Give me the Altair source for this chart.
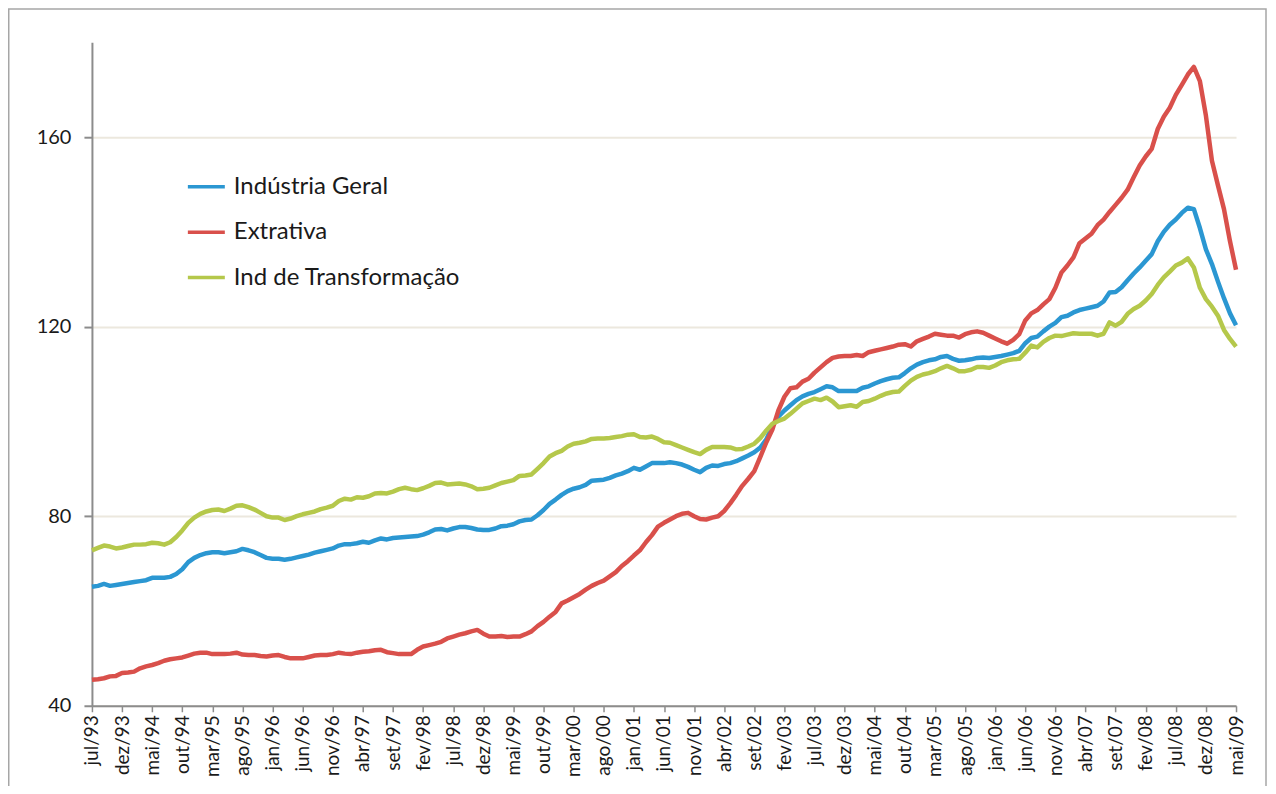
import altair as alt
import pandas as pd

# ---- data -------------------------------------------------------------
nomes_meses = ["jan", "fev", "mar", "abr", "mai", "jun",
               "jul", "ago", "set", "out", "nov", "dez"]
# monthly labels jul/93 .. mai/09
meses = [f"{nomes_meses[(6 + i) % 12]}/{(93 + (6 + i) // 12) % 100:02d}" for i in range(191)]
tick_labels = meses[::5]

series = ["Indústria Geral", "Extrativa", "Ind de Transformação"]
cores = ["#2b97d2", "#d9504b", "#b5c84b"]

industria_geral = [
    65.1, 65.3, 65.7, 65.3, 65.5, 65.7, 65.9, 66.1, 66.3, 66.5, 67.0, 67.0, 67.0,
    67.2, 67.8, 68.8, 70.3, 71.2, 71.8, 72.2, 72.4, 72.4, 72.2, 72.4, 72.6, 73.1,
    72.8, 72.4, 71.8, 71.2, 71.0, 71.0, 70.8, 71.0, 71.3, 71.6, 71.9, 72.3, 72.6,
    72.9, 73.2, 73.8, 74.1, 74.1, 74.3, 74.6, 74.4, 74.9, 75.3, 75.1, 75.4, 75.5,
    75.6, 75.7, 75.8, 76.1, 76.6, 77.2, 77.3, 77.0, 77.4, 77.7, 77.7, 77.5, 77.2,
    77.1, 77.1, 77.4, 77.9, 78.0, 78.3, 78.9, 79.2, 79.3, 80.2, 81.3, 82.6, 83.5,
    84.5, 85.3, 85.8, 86.1, 86.6, 87.5, 87.6, 87.7, 88.1, 88.6, 89.0, 89.5, 90.2,
    89.8, 90.5, 91.2, 91.2, 91.2, 91.4, 91.2, 90.9, 90.4, 89.8, 89.3, 90.2, 90.7,
    90.6, 91.0, 91.2, 91.6, 92.2, 92.8, 93.5, 94.5, 96.2, 99.0, 101.0, 102.3, 103.4,
    104.5, 105.3, 105.8, 106.2, 106.8, 107.4, 107.2, 106.4, 106.4, 106.4, 106.4, 107.1,
    107.4, 108.0, 108.5, 108.9, 109.2, 109.3, 110.2, 111.2, 112.0, 112.5, 112.9, 113.1, 113.6,
    113.8, 113.2, 112.8, 112.9, 113.1, 113.4, 113.5, 113.4, 113.6, 113.8, 114.1, 114.4, 114.9,
    116.5, 117.6, 117.9, 119.0, 120.0, 120.8, 122.0, 122.3, 123.0, 123.5, 123.8, 124.1, 124.4,
    125.3, 127.2, 127.3, 128.3, 129.8, 131.2, 132.5, 133.9, 135.3, 138.0, 140.0, 141.5, 142.6,
    144.0, 145.1, 144.8, 140.8, 136.3, 133.2, 129.5, 126.0, 122.8, 120.3,
]

extrativa = [
    45.5, 45.6, 45.8, 46.2, 46.3, 46.9, 47.0, 47.2, 47.9, 48.3, 48.6, 49.0, 49.5,
    49.8, 50.0, 50.2, 50.6, 51.0, 51.2, 51.2, 50.9, 50.9, 50.9, 51.0, 51.2, 50.8,
    50.7, 50.7, 50.5, 50.4, 50.6, 50.7, 50.3, 50.0, 50.0, 50.0, 50.3, 50.6, 50.7,
    50.7, 50.9, 51.2, 51.0, 50.9, 51.2, 51.4, 51.5, 51.7, 51.8, 51.3, 51.1, 50.9,
    50.9, 50.9, 51.8, 52.5, 52.8, 53.1, 53.5, 54.2, 54.6, 55.0, 55.3, 55.7, 56.0,
    55.2, 54.6, 54.6, 54.7, 54.5, 54.6, 54.6, 55.1, 55.7, 56.8, 57.7, 58.8, 59.8,
    61.6, 62.2, 62.9, 63.6, 64.5, 65.3, 65.9, 66.4, 67.3, 68.2, 69.5, 70.5, 71.7,
    72.8, 74.5, 76.0, 77.8, 78.6, 79.3, 80.0, 80.5, 80.7, 80.0, 79.4, 79.3, 79.7,
    80.0, 81.1, 82.7, 84.5, 86.4, 87.9, 89.5, 92.5, 95.6, 98.3, 102.3, 105.2, 107.0,
    107.2, 108.4, 109.0, 110.3, 111.4, 112.5, 113.4, 113.7, 113.8, 113.8, 114.0, 113.8,
    114.6, 114.9, 115.2, 115.5, 115.8, 116.2, 116.3, 115.8, 116.9, 117.4, 117.9, 118.5, 118.3,
    118.1, 118.1, 117.7, 118.4, 118.8, 119.0, 118.7, 118.1, 117.5, 116.9, 116.4, 117.2, 118.4,
    121.3, 122.8, 123.5, 124.7, 125.8, 128.2, 131.4, 132.9, 134.6, 137.6, 138.6, 139.6, 141.4,
    142.6, 144.2, 145.7, 147.2, 148.9, 151.5, 154.0, 155.9, 157.5, 161.7, 164.3, 166.2, 168.9,
    171.0, 173.2, 174.8, 171.8, 164.5, 155.0, 149.8, 144.8, 138.0, 132.0,
]

transformacao = [
    72.8, 73.3, 73.8, 73.6, 73.2, 73.4, 73.7, 74.0, 74.0, 74.1, 74.4, 74.3, 74.0,
    74.5, 75.6, 77.0, 78.6, 79.7, 80.5, 81.0, 81.3, 81.4, 81.1, 81.6, 82.2, 82.3,
    81.9, 81.4, 80.7, 80.0, 79.7, 79.7, 79.2, 79.5, 80.0, 80.4, 80.7, 81.0, 81.5,
    81.8, 82.2, 83.2, 83.7, 83.5, 84.0, 83.9, 84.2, 84.8, 84.9, 84.8, 85.2, 85.7,
    86.0, 85.7, 85.5, 85.9, 86.4, 87.0, 87.1, 86.7, 86.8, 86.9, 86.7, 86.3, 85.7,
    85.8, 86.0, 86.5, 87.0, 87.3, 87.6, 88.5, 88.6, 88.8, 90.0, 91.2, 92.6, 93.3,
    93.8, 94.7, 95.3, 95.5, 95.8, 96.3, 96.4, 96.4, 96.5, 96.7, 96.9, 97.2, 97.3,
    96.7, 96.6, 96.8, 96.3, 95.6, 95.5, 95.0, 94.5, 94.0, 93.5, 93.1, 94.0, 94.6,
    94.6, 94.6, 94.5, 94.1, 94.2, 94.7, 95.3, 96.5, 98.1, 99.5, 100.1, 100.6, 101.6,
    102.7, 103.8, 104.3, 104.8, 104.5, 105.0, 104.2, 103.0, 103.2, 103.4, 103.1, 104.1,
    104.3, 104.8, 105.4, 105.9, 106.2, 106.3, 107.5, 108.6, 109.4, 109.9, 110.2, 110.6, 111.2,
    111.7, 111.2, 110.6, 110.6, 110.9, 111.5, 111.5, 111.3, 111.8, 112.5, 112.9, 113.1, 113.2,
    114.5, 116.0, 115.6, 116.8, 117.6, 118.1, 118.0, 118.3, 118.6, 118.5, 118.5, 118.5, 118.1,
    118.5, 120.9, 120.2, 121.0, 122.7, 123.7, 124.4, 125.5, 126.9, 128.8, 130.4, 131.6, 132.9,
    133.5, 134.4, 132.5, 128.2, 125.8, 124.2, 122.3, 119.3, 117.4, 115.8,
]

y_ticks = [40, 80, 120, 160]

# ---- table -------------------------------------------------------------
rows = []
for nome, valores in zip(series, [industria_geral, extrativa, transformacao]):
    for i, (m, v) in enumerate(zip(meses, valores)):
        rows.append({"mes": m, "ordem": i, "serie": nome, "valor": v})
df = pd.DataFrame(rows)

W, H = 1145, 664
FONT = "Lato"
AXIS_GRAY = "#8c8c8c"
TEXT = "#1a1a1a"

lines = alt.Chart(df).mark_line(strokeWidth=4.5, strokeJoin="round").encode(
    x=alt.X(
        "mes:O",
        sort=meses,
        scale=alt.Scale(type="point", padding=0),
        axis=alt.Axis(
            values=tick_labels,
            labelAngle=-90,
            labelFontSize=19,
            labelColor=TEXT,
            labelPadding=3,
            labelOverlap=False,
            tickSize=6,
            tickWidth=1.5,
            tickColor=AXIS_GRAY,
            domainColor=AXIS_GRAY,
            domainWidth=2,
            grid=False,
            title=None,
        ),
    ),
    y=alt.Y(
        "valor:Q",
        scale=alt.Scale(domain=[40, 180], nice=False, zero=False),
        axis=alt.Axis(
            values=y_ticks,
            labelFontSize=20,
            labelColor=TEXT,
            labelPadding=13,
            tickSize=8,
            tickWidth=2,
            tickColor=AXIS_GRAY,
            domainColor=AXIS_GRAY,
            domainWidth=2,
            grid=True,
            gridColor="#ece8de",
            gridWidth=2,
            title=None,
        ),
    ),
    color=alt.Color(
        "serie:N",
        scale=alt.Scale(domain=series, range=cores),
        sort=series,
        legend=alt.Legend(
            title=None,
            orient="none",
            legendX=94,
            legendY=124,
            symbolType="stroke",
            symbolSize=1369,
            symbolStrokeWidth=3.5,
            labelFontSize=24,
            labelColor=TEXT,
            labelOffset=7,
            labelLimit=1000,
            rowPadding=12.5,
            padding=0,
        ),
    ),
    detail="serie:N",
    order="ordem:Q",
)

frame_df = pd.DataFrame({"k": [0]})
frame = alt.Chart(frame_df).mark_rect(
    fillOpacity=0, stroke="#a6a6a6", strokeWidth=1.5
).encode(
    x=alt.value(-83.25),
    x2=alt.value(1175),
    y=alt.value(-33.25),
    y2=alt.value(800),
)

chart = (
    alt.layer(frame, lines)
    .properties(
        width=W,
        height=H,
        autosize=alt.AutoSizeParams(type="none"),
        padding={"left": 84, "top": 34, "right": 32, "bottom": 80},
    )
    .configure(font=FONT)
    .configure_view(strokeWidth=0)
)

chart.save("out.html", embed_options={"renderer": "svg", "actions": False})
